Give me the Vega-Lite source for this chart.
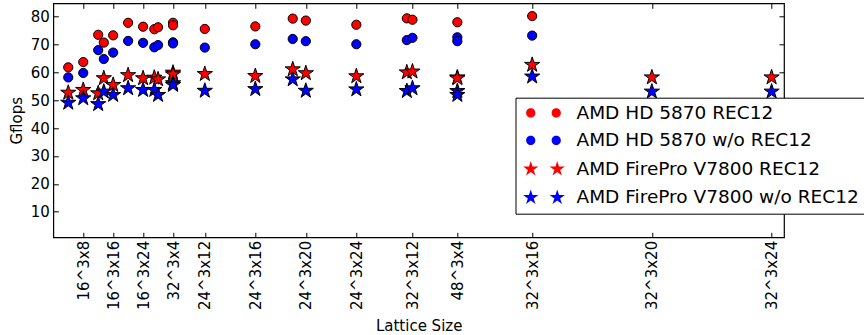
{
  "$schema": "https://vega.github.io/schema/vega-lite/v6.json",
  "width": 730.7,
  "height": 234,
  "autosize": {"type": "none"},
  "padding": {"left": 53.3, "top": 3.3, "right": 80, "bottom": 97.7},
  "background": "white",
  "config": {
    "font": "DejaVu Sans",
    "view": {"stroke": "black", "strokeWidth": 1.2},
    "axis": {
      "labelFont": "DejaVu Sans", "labelFontSize": 15, "labelColor": "black",
      "titleFont": "DejaVu Sans", "titleFontSize": 15, "titleColor": "black", "titleFontWeight": "normal",
      "tickColor": "black", "tickWidth": 1, "domain": false, "grid": false,
      "labelOverlap": false, "labelFlush": false
    },
    "legend": {"orient": "none", "legendX": 462.2, "legendY": 94.4, "fillColor": "white", "strokeColor": "black", "padding": 6, "cornerRadius": 0,
      "labelFont": "DejaVu Sans", "labelFontSize": 18.5, "labelColor": "black", "labelLimit": 500, "labelOffset": 36.5, "rowPadding": 8.5,
      "symbolSize": 4, "symbolStrokeColor": "black", "symbolStrokeWidth": 1, "symbolOpacity": 1}
  },
  "data": {"values": [
    {"v": 16384, "g": 61.8, "s": "AMD HD 5870 REC12"},
    {"v": 32768, "g": 63.7, "s": "AMD HD 5870 REC12"},
    {"v": 49152, "g": 73.5, "s": "AMD HD 5870 REC12"},
    {"v": 55296, "g": 70.7, "s": "AMD HD 5870 REC12"},
    {"v": 65536, "g": 73.3, "s": "AMD HD 5870 REC12"},
    {"v": 81920, "g": 77.8, "s": "AMD HD 5870 REC12"},
    {"v": 98304, "g": 76.4, "s": "AMD HD 5870 REC12"},
    {"v": 110592, "g": 75.5, "s": "AMD HD 5870 REC12"},
    {"v": 114688, "g": 76.2, "s": "AMD HD 5870 REC12"},
    {"v": 131072, "g": 77.8, "s": "AMD HD 5870 REC12"},
    {"v": 131072, "g": 76.9, "s": "AMD HD 5870 REC12"},
    {"v": 165888, "g": 75.6, "s": "AMD HD 5870 REC12"},
    {"v": 221184, "g": 76.5, "s": "AMD HD 5870 REC12"},
    {"v": 262144, "g": 79.3, "s": "AMD HD 5870 REC12"},
    {"v": 276480, "g": 78.6, "s": "AMD HD 5870 REC12"},
    {"v": 331776, "g": 77.1, "s": "AMD HD 5870 REC12"},
    {"v": 387072, "g": 79.4, "s": "AMD HD 5870 REC12"},
    {"v": 393216, "g": 78.9, "s": "AMD HD 5870 REC12"},
    {"v": 442368, "g": 78.0, "s": "AMD HD 5870 REC12"},
    {"v": 524288, "g": 80.2, "s": "AMD HD 5870 REC12"},
    {"v": 16384, "g": 58.2, "s": "AMD HD 5870 w/o REC12"},
    {"v": 32768, "g": 59.8, "s": "AMD HD 5870 w/o REC12"},
    {"v": 49152, "g": 68.0, "s": "AMD HD 5870 w/o REC12"},
    {"v": 55296, "g": 64.8, "s": "AMD HD 5870 w/o REC12"},
    {"v": 65536, "g": 67.1, "s": "AMD HD 5870 w/o REC12"},
    {"v": 81920, "g": 71.3, "s": "AMD HD 5870 w/o REC12"},
    {"v": 98304, "g": 70.6, "s": "AMD HD 5870 w/o REC12"},
    {"v": 110592, "g": 69.0, "s": "AMD HD 5870 w/o REC12"},
    {"v": 114688, "g": 69.8, "s": "AMD HD 5870 w/o REC12"},
    {"v": 131072, "g": 70.8, "s": "AMD HD 5870 w/o REC12"},
    {"v": 131072, "g": 70.4, "s": "AMD HD 5870 w/o REC12"},
    {"v": 165888, "g": 68.9, "s": "AMD HD 5870 w/o REC12"},
    {"v": 221184, "g": 70.1, "s": "AMD HD 5870 w/o REC12"},
    {"v": 262144, "g": 72.0, "s": "AMD HD 5870 w/o REC12"},
    {"v": 276480, "g": 71.2, "s": "AMD HD 5870 w/o REC12"},
    {"v": 331776, "g": 70.1, "s": "AMD HD 5870 w/o REC12"},
    {"v": 387072, "g": 71.6, "s": "AMD HD 5870 w/o REC12"},
    {"v": 393216, "g": 72.4, "s": "AMD HD 5870 w/o REC12"},
    {"v": 442368, "g": 72.6, "s": "AMD HD 5870 w/o REC12"},
    {"v": 442368, "g": 71.2, "s": "AMD HD 5870 w/o REC12"},
    {"v": 524288, "g": 73.2, "s": "AMD HD 5870 w/o REC12"},
    {"v": 16384, "g": 52.7, "s": "AMD FirePro V7800 REC12"},
    {"v": 32768, "g": 53.7, "s": "AMD FirePro V7800 REC12"},
    {"v": 49152, "g": 52.5, "s": "AMD FirePro V7800 REC12"},
    {"v": 55296, "g": 57.9, "s": "AMD FirePro V7800 REC12"},
    {"v": 65536, "g": 55.5, "s": "AMD FirePro V7800 REC12"},
    {"v": 81920, "g": 59.0, "s": "AMD FirePro V7800 REC12"},
    {"v": 98304, "g": 57.9, "s": "AMD FirePro V7800 REC12"},
    {"v": 110592, "g": 58.1, "s": "AMD FirePro V7800 REC12"},
    {"v": 114688, "g": 57.5, "s": "AMD FirePro V7800 REC12"},
    {"v": 131072, "g": 59.9, "s": "AMD FirePro V7800 REC12"},
    {"v": 131072, "g": 59.3, "s": "AMD FirePro V7800 REC12"},
    {"v": 165888, "g": 59.4, "s": "AMD FirePro V7800 REC12"},
    {"v": 221184, "g": 58.7, "s": "AMD FirePro V7800 REC12"},
    {"v": 262144, "g": 61.1, "s": "AMD FirePro V7800 REC12"},
    {"v": 276480, "g": 59.7, "s": "AMD FirePro V7800 REC12"},
    {"v": 331776, "g": 58.6, "s": "AMD FirePro V7800 REC12"},
    {"v": 387072, "g": 60.0, "s": "AMD FirePro V7800 REC12"},
    {"v": 393216, "g": 60.3, "s": "AMD FirePro V7800 REC12"},
    {"v": 442368, "g": 58.2, "s": "AMD FirePro V7800 REC12"},
    {"v": 442368, "g": 57.9, "s": "AMD FirePro V7800 REC12"},
    {"v": 524288, "g": 62.7, "s": "AMD FirePro V7800 REC12"},
    {"v": 655360, "g": 58.2, "s": "AMD FirePro V7800 REC12"},
    {"v": 786432, "g": 58.2, "s": "AMD FirePro V7800 REC12"},
    {"v": 16384, "g": 49.1, "s": "AMD FirePro V7800 w/o REC12"},
    {"v": 32768, "g": 50.7, "s": "AMD FirePro V7800 w/o REC12"},
    {"v": 49152, "g": 48.6, "s": "AMD FirePro V7800 w/o REC12"},
    {"v": 55296, "g": 53.1, "s": "AMD FirePro V7800 w/o REC12"},
    {"v": 65536, "g": 51.9, "s": "AMD FirePro V7800 w/o REC12"},
    {"v": 81920, "g": 54.3, "s": "AMD FirePro V7800 w/o REC12"},
    {"v": 98304, "g": 53.7, "s": "AMD FirePro V7800 w/o REC12"},
    {"v": 110592, "g": 53.7, "s": "AMD FirePro V7800 w/o REC12"},
    {"v": 114688, "g": 51.9, "s": "AMD FirePro V7800 w/o REC12"},
    {"v": 131072, "g": 56.1, "s": "AMD FirePro V7800 w/o REC12"},
    {"v": 131072, "g": 55.5, "s": "AMD FirePro V7800 w/o REC12"},
    {"v": 165888, "g": 53.4, "s": "AMD FirePro V7800 w/o REC12"},
    {"v": 221184, "g": 54.0, "s": "AMD FirePro V7800 w/o REC12"},
    {"v": 262144, "g": 57.5, "s": "AMD FirePro V7800 w/o REC12"},
    {"v": 276480, "g": 53.4, "s": "AMD FirePro V7800 w/o REC12"},
    {"v": 331776, "g": 53.9, "s": "AMD FirePro V7800 w/o REC12"},
    {"v": 387072, "g": 53.3, "s": "AMD FirePro V7800 w/o REC12"},
    {"v": 393216, "g": 54.3, "s": "AMD FirePro V7800 w/o REC12"},
    {"v": 442368, "g": 53.3, "s": "AMD FirePro V7800 w/o REC12"},
    {"v": 442368, "g": 51.9, "s": "AMD FirePro V7800 w/o REC12"},
    {"v": 524288, "g": 58.5, "s": "AMD FirePro V7800 w/o REC12"},
    {"v": 655360, "g": 53.1, "s": "AMD FirePro V7800 w/o REC12"},
    {"v": 786432, "g": 53.1, "s": "AMD FirePro V7800 w/o REC12"}
  ]},
  "resolve": {"axis": {"x": "independent", "y": "independent"}},
  "layer": [
    {
      "transform": [{"filter": "indexof(datum.s, 'HD 5870') >= 0"}],
      "mark": {"type": "point", "shape": "circle", "filled": true, "size": 85, "stroke": "black", "strokeWidth": 1, "opacity": 1},
      "encoding": {
        "x": {"field": "v", "type": "quantitative", "scale": {"domain": [0, 800000], "nice": false, "zero": false},
          "axis": {"orient": "bottom", "values": [32768, 65536, 98304, 131072, 165888, 221184, 276480, 331776, 393216, 442368, 524288, 655360, 786432],
            "labelExpr": "datum.value == 32768 ? '16^3x8' : datum.value == 65536 ? '16^3x16' : datum.value == 98304 ? '16^3x24' : datum.value == 131072 ? '32^3x4' : datum.value == 165888 ? '24^3x12' : datum.value == 221184 ? '24^3x16' : datum.value == 276480 ? '24^3x20' : datum.value == 331776 ? '24^3x24' : datum.value == 393216 ? '32^3x12' : datum.value == 442368 ? '48^3x4' : datum.value == 524288 ? '32^3x16' : datum.value == 655360 ? '32^3x20' : '32^3x24'",
            "labelAngle": 270, "tickSize": -5, "labelPadding": 8, "title": "Lattice Size", "titlePadding": 9}},
        "y": {"field": "g", "type": "quantitative", "scale": {"domain": [0.8, 84.8], "nice": false, "zero": false},
          "axis": {"orient": "left", "values": [10, 20, 30, 40, 50, 60, 70, 80], "tickSize": -5, "labelPadding": 9, "title": "Gflops", "titlePadding": 6}},
        "color": {"field": "s", "type": "nominal",
          "scale": {"domain": ["AMD HD 5870 REC12", "AMD HD 5870 w/o REC12", "AMD FirePro V7800 REC12", "AMD FirePro V7800 w/o REC12"], "range": ["#ff0000", "#0000ff", "#ff0000", "#0000ff"]},
          "legend": {"title": null}}
      }
    },
    {
      "transform": [{"filter": "indexof(datum.s, 'FirePro') >= 0"}],
      "mark": {"type": "point", "shape": "M0,-1L0.2245,-0.309L0.9511,-0.309L0.3633,0.118L0.5878,0.809L0,0.382L-0.5878,0.809L-0.3633,0.118L-0.9511,-0.309L-0.2245,-0.309Z", "filled": true, "size": 256, "stroke": "black", "strokeWidth": 1, "opacity": 1},
      "encoding": {
        "x": {"field": "v", "type": "quantitative",
          "axis": {"orient": "top", "values": [32768, 65536, 98304, 131072, 165888, 221184, 276480, 331776, 393216, 442368, 524288, 655360, 786432], "labels": false, "tickSize": -5, "title": null}},
        "y": {"field": "g", "type": "quantitative",
          "axis": {"orient": "right", "values": [10, 20, 30, 40, 50, 60, 70, 80], "labels": false, "tickSize": -5, "title": null}},
        "color": {"field": "s", "type": "nominal", "legend": {"title": null}}
      }
    },
    {
      "transform": [{"filter": "false"}],
      "mark": {"type": "point", "filled": true, "stroke": "black", "strokeWidth": 1, "opacity": 1},
      "encoding": {
        "x": {"field": "v", "type": "quantitative", "axis": null},
        "y": {"field": "g", "type": "quantitative", "axis": null},
        "color": {"field": "s", "type": "nominal", "legend": {"title": null}},
        "shape": {"field": "s", "type": "nominal",
          "scale": {"domain": ["AMD HD 5870 REC12", "AMD HD 5870 w/o REC12", "AMD FirePro V7800 REC12", "AMD FirePro V7800 w/o REC12"],
            "range": [
              "M4.6,0C4.6,2.54,2.54,4.6,0,4.6C-2.54,4.6,-4.6,2.54,-4.6,0C-4.6,-2.54,-2.54,-4.6,0,-4.6C2.54,-4.6,4.6,-2.54,4.6,0Z M30.1,0C30.1,2.54,28.04,4.6,25.5,4.6C22.96,4.6,20.9,2.54,20.9,0C20.9,-2.54,22.96,-4.6,25.5,-4.6C28.04,-4.6,30.1,-2.54,30.1,0Z",
              "M4.6,0C4.6,2.54,2.54,4.6,0,4.6C-2.54,4.6,-4.6,2.54,-4.6,0C-4.6,-2.54,-2.54,-4.6,0,-4.6C2.54,-4.6,4.6,-2.54,4.6,0Z M30.1,0C30.1,2.54,28.04,4.6,25.5,4.6C22.96,4.6,20.9,2.54,20.9,0C20.9,-2.54,22.96,-4.6,25.5,-4.6C28.04,-4.6,30.1,-2.54,30.1,0Z",
              "M0,-8L1.796,-2.472L7.609,-2.472L2.906,0.944L4.702,6.472L0,3.056L-4.702,6.472L-2.906,0.944L-7.609,-2.472L-1.796,-2.472Z M26.5,-8L28.296,-2.472L34.109,-2.472L29.406,0.944L31.202,6.472L26.5,3.056L21.798,6.472L23.594,0.944L18.891,-2.472L24.704,-2.472Z",
              "M0,-8L1.796,-2.472L7.609,-2.472L2.906,0.944L4.702,6.472L0,3.056L-4.702,6.472L-2.906,0.944L-7.609,-2.472L-1.796,-2.472Z M26.5,-8L28.296,-2.472L34.109,-2.472L29.406,0.944L31.202,6.472L26.5,3.056L21.798,6.472L23.594,0.944L18.891,-2.472L24.704,-2.472Z"
            ]},
          "legend": {"title": null}}
      }
    }
  ]
}
